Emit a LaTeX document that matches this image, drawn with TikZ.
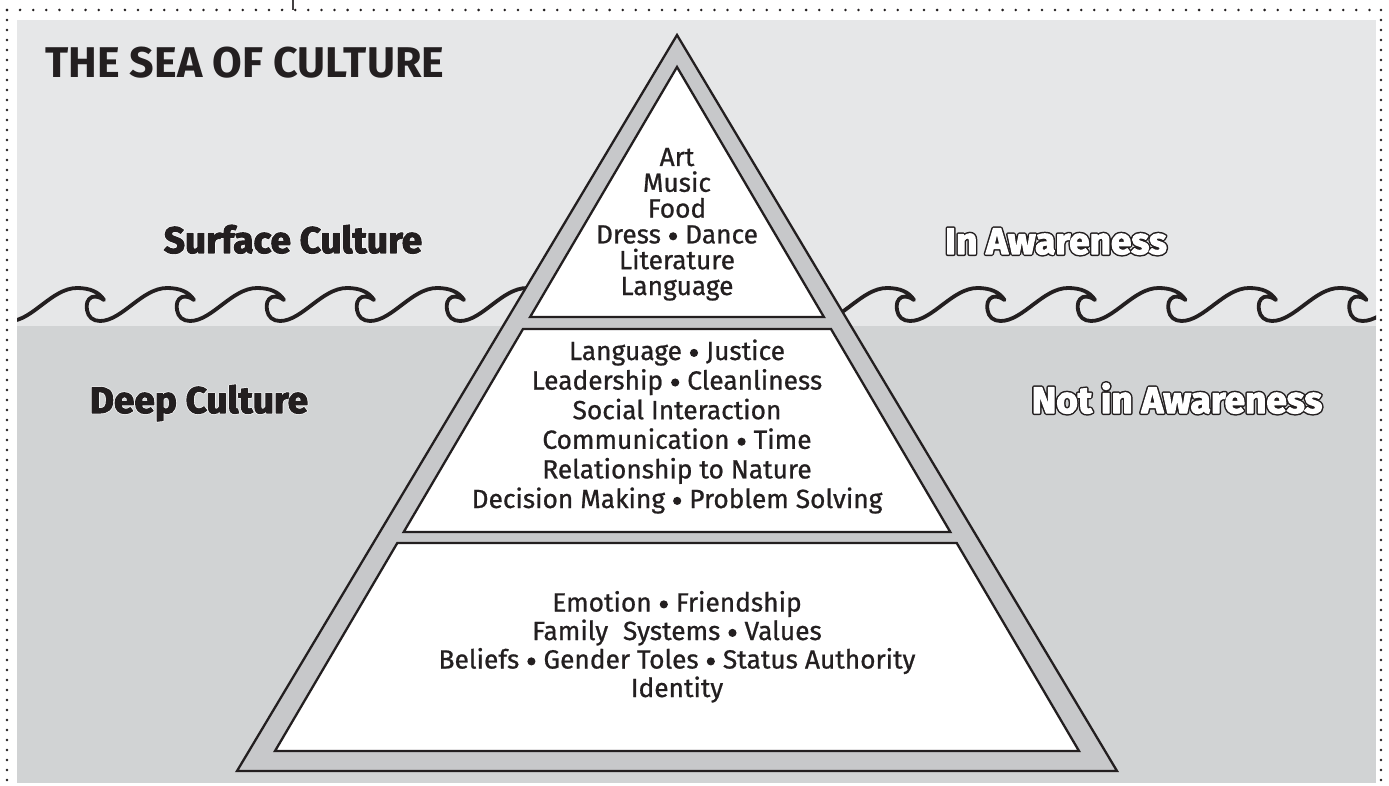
\documentclass[tikz,border=0pt]{standalone}
\usepackage{fontspec}
\setmainfont{Fira Sans}
\newfontfamily\bodyfont[FakeBold=0.8]{Fira Sans}
\newfontfamily\heavyfont[BoldFeatures={FakeBold=3}]{Fira Sans}
\newfontfamily\haloedge[BoldFeatures={FakeBold=6.5}]{Fira Sans}
\newfontfamily\heavyedge[BoldFeatures={FakeBold=11}]{Fira Sans}
\definecolor{seatop}{HTML}{E6E7E8}
\definecolor{seadeep}{HTML}{D1D3D4}
\definecolor{band}{HTML}{C7C8CA}
\definecolor{ink}{HTML}{231F20}
\newcommand\bul{\hspace{0.04em}\tikz[baseline=0pt]\fill[ink] (0pt,0.27em) circle[radius=0.155em];\hspace{0.04em}}
\begin{document}
\begin{tikzpicture}[x=1pt,y=-1pt,
  layer/.style={fill=white, draw=ink, line width=2.3pt, line join=miter},
  outerband/.style={fill=band, draw=ink, line width=2.3pt, line join=miter},
  body/.style={font=\fontsize{26.3}{30}\bodyfont, text=ink, anchor=base, inner sep=0pt, text height=18pt, text depth=5pt},
  titlefont/.style={font=\fontsize{43}{50}\selectfont\bfseries, text=ink, anchor=base west, inner sep=0pt},
  heavylbl/.style={font=\fontsize{37}{42}\heavyfont\bfseries, text=ink, anchor=base, inner sep=0pt, line join=round},
  halolbl/.style={font=\fontsize{37}{42}\haloedge\bfseries, text=white, anchor=base, inner sep=0pt, line join=round},
  edgelbl/.style={font=\fontsize{37}{42}\heavyedge\bfseries, text=ink, anchor=base, inner sep=0pt, line join=round},
  hollowlbl/.style={font=\fontsize{37}{42}\heavyfont\bfseries, text=white, anchor=base, inner sep=0pt, line join=round},
  wave/.style={draw=ink, line width=3.8pt, line join=round, line cap=round},
  dotrow/.style={draw=ink, line width=2.8pt, line cap=round, dash pattern=on 0pt off 13.1pt},
  dotcol/.style={draw=ink, line width=2.8pt, line cap=round, dash pattern=on 0pt off 10pt}]
\useasboundingbox (0,0) rectangle (1389,786);
\fill[white] (0,0) rectangle (1389,786);
% sea
\fill[seatop] (17,20) rectangle (1376,326);
\fill[seadeep] (17,326) rectangle (1376,783);
% dotted frame
\draw[dotrow] (7,10) -- (1381,10);
\draw[dotcol] (7,10) -- (7,790);
\draw[dotcol] (1381,10) -- (1381,790);
\draw[ink!85, line width=1.2pt] (293,0) -- (293,10);
% waves
\begin{scope}
\clip (17,20) rectangle (1376,783);
\draw[wave] (10,321) \foreach \s in {10,100,...,460} {
  .. controls ({\s+22},321) and ({\s+42},288) .. ({\s+67},288)
  .. controls ({\s+80},288) and ({\s+89},292) .. ({\s+94},300)
  .. controls ({\s+90},297) and ({\s+86},296) .. ({\s+82},297)
  .. controls ({\s+77},299) and ({\s+76},305) .. ({\s+77},310)
  .. controls ({\s+78},317) and ({\s+83},321) .. ({\s+90},321) };
\draw[wave] (729.5,321) \foreach \s in {729.5,820,...,1400} {
  .. controls ({\s+22},321) and ({\s+42},288) .. ({\s+67},288)
  .. controls ({\s+80},288) and ({\s+89},292) .. ({\s+94},300)
  .. controls ({\s+90},297) and ({\s+86},296) .. ({\s+82},297)
  .. controls ({\s+77},299) and ({\s+76},305) .. ({\s+77},310)
  .. controls ({\s+78},317) and ({\s+83},321) .. ({\s+90},321) };
\end{scope}
% pyramid
\draw[outerband] (677,35) -- (1117,771) -- (237,771) -- cycle;
\draw[layer] (677,67) -- (823.9,317) -- (530.1,317) -- cycle;
\draw[layer] (523,329) -- (831,329) -- (950.3,532) -- (403.7,532) -- cycle;
\draw[layer] (397.3,543) -- (956.7,543) -- (1079,751) -- (275,751) -- cycle;
% title
\node[titlefont] (title) at (45,78) {THE SEA OF CULTURE};
% side labels
\node[halolbl] (surfacehalo) at (293,253) {Surface Culture};
\node[heavylbl] (surface) at (293,253) {Surface Culture};
\node[halolbl] (deephalo) at (199,413) {Deep Culture};
\node[heavylbl] (deep) at (199,413) {Deep Culture};
\node[edgelbl] (inawareedge) at (1056,254) {In Awareness};
\node[hollowlbl] (inaware) at (1056,254) {In Awareness};
\node[edgelbl] (notawareedge) at (1177,413) {Not in Awareness};
\node[hollowlbl] (notaware) at (1177,413) {Not in Awareness};
% layer texts
\foreach \t [count=\i] in {Art, Music, Food, Dress \bul{} Dance, Literature, Language}
  \node[body] (top\i) at (677,{166+25.8*(\i-1)}) {\t};
\foreach \t [count=\i] in {Language \bul{} Justice, Leadership \bul{} Cleanliness, Social Interaction, Communication \bul{} Time, Relationship to Nature, Decision Making \bul{} Problem Solving}
  \node[body] (mid\i) at (677,{360+29.6*(\i-1)}) {\t};
\foreach \t [count=\i] in {Emotion \bul{} Friendship, Family\hspace{0.3em} Systems \bul{} Values, Beliefs \bul{} Gender Toles \bul{} Status Authority, Identity}
  \node[body] (low\i) at (677,{611.5+28.5*(\i-1)}) {\t};
\end{tikzpicture}
\end{document}
